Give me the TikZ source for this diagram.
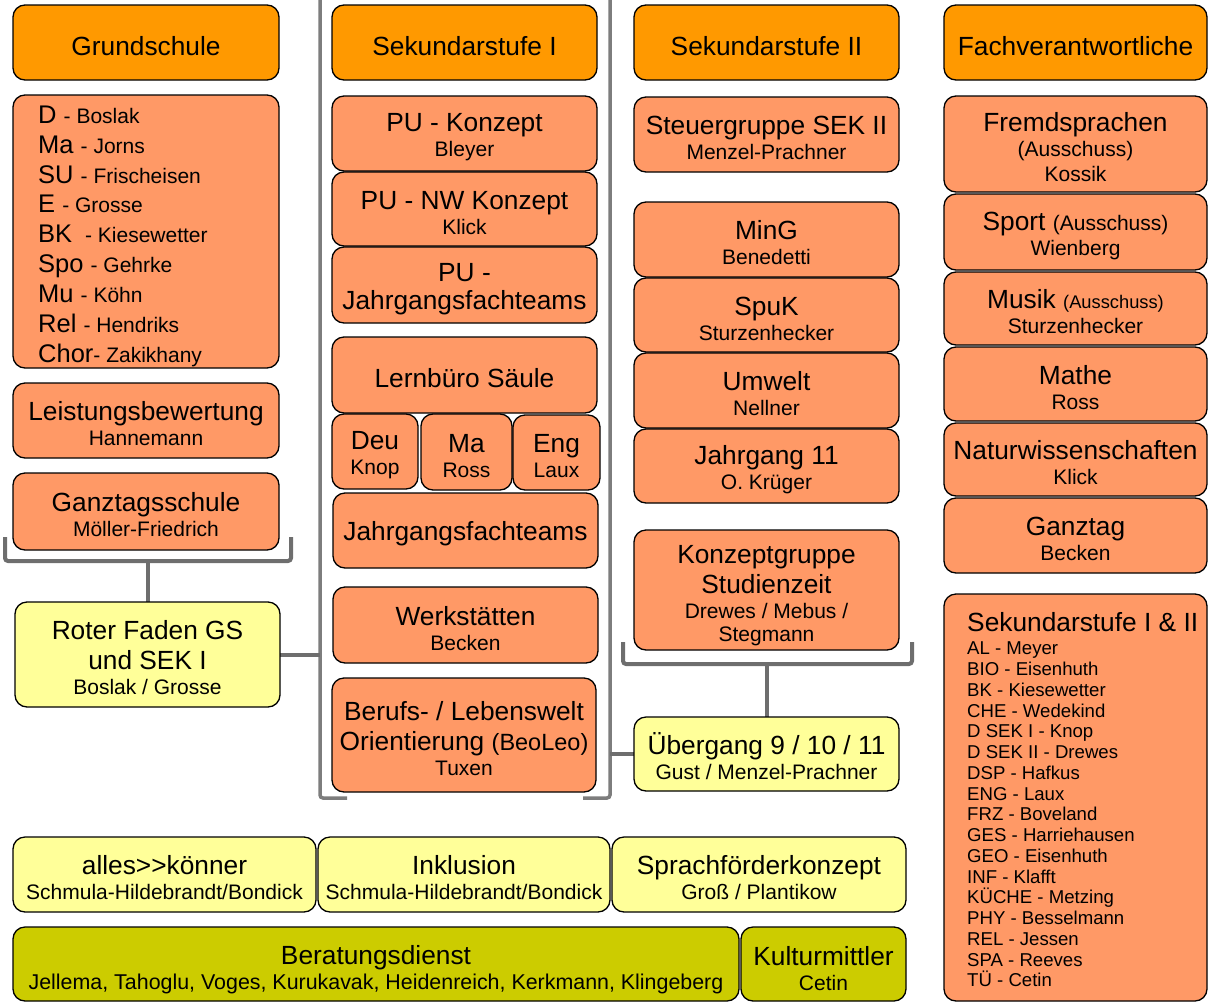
\documentclass[tikz,border=0pt]{standalone}
\usepackage{fontspec}
\setmainfont{Liberation Sans}
\usetikzlibrary{backgrounds}
\definecolor{hdrc}{HTML}{FF9900}
\definecolor{salc}{HTML}{FF9966}
\definecolor{yelc}{HTML}{FFFF99}
\definecolor{olic}{HTML}{CCCC00}
\definecolor{brkc}{HTML}{6E6E6E}
\newcommand\tsz{\fontsize{26.3}{30}\selectfont}
\newcommand\ssz{\fontsize{21}{25}\selectfont}
\newcommand\xsz{\fontsize{18.3}{22}\selectfont}
\newcommand\mybox[7]{\node[#1, minimum width={#4-#2}, minimum height={#5-#3}] (#6) at ({(#2+#4)/2},{(#3+#5)/2}) {\rule{0pt}{25.5pt}#7};}
\begin{document}
\begin{tikzpicture}[x=1pt,y=-1pt,
  box/.style={draw=black, line width=1.3pt, rounded corners=12pt, inner sep=0pt, outer sep=0pt, align=center, font=\tsz, text=black},
  head/.style={box, fill=hdrc},
  sbox/.style={box, fill=salc},
  ybox/.style={box, fill=yelc},
  obox/.style={box, fill=olic},
  listtxt/.style={inner sep=0pt, align=left, font=\fontsize{25.5}{29.9}\selectfont},
  listtwo/.style={inner sep=0pt, align=left, font=\fontsize{18.6}{20.75}\selectfont},
  brace/.style={draw=brkc, line width=4pt, rounded corners=3pt},
  sekbrace/.style={draw=brkc!90, line width=3.5pt, rounded corners=3pt},
  conn/.style={draw=brkc, line width=4pt}]
\useasboundingbox (0,0) rectangle (1208,1002);

% headers
\mybox{head}{13}{5}{279}{80}{gs}{Grundschule}
\mybox{head}{332}{5}{597}{80}{s1}{Sekundarstufe I}
\mybox{head}{634}{5}{899}{80}{s2}{Sekundarstufe II}
\mybox{head}{944}{5}{1207}{80}{fv}{Fachverantwortliche}

% column 1
\mybox{sbox}{13}{95}{279}{368}{gsl}{}
\node[listtxt, anchor=north west] (gsltxt) at (38,105.5) {D {\ssz - Boslak}\\Ma {\ssz - Jorns}\\SU {\ssz - Frischeisen}\\E {\ssz - Grosse}\\BK\ {\ssz\ - Kiesewetter}\\Spo {\ssz - Gehrke}\\Mu {\ssz - Köhn}\\Rel {\ssz - Hendriks}\\Chor{\ssz - Zakikhany}};
\mybox{sbox}{13}{383}{279}{458}{lb}{Leistungsbewertung\\[-5pt]{\ssz Hannemann}}
\mybox{sbox}{13}{473}{279}{550}{gt}{Ganztagsschule\\[-5pt]{\ssz Möller-Friedrich}}
\mybox{ybox}{15}{602}{280}{707}{rf}{Roter Faden GS\\und SEK I\\[-5pt]{\ssz Boslak / Grosse}}

% column 2
\mybox{sbox}{332}{96}{597}{171}{puk}{PU - Konzept\\[-5pt]{\ssz Bleyer}}
\mybox{sbox}{332}{172}{597}{246}{punw}{PU - NW Konzept\\[-5pt]{\ssz Klick}}
\mybox{sbox}{332}{247}{597}{323}{pujf}{PU -\\[-2pt]Jahrgangsfachteams}
\mybox{sbox}{332}{337}{597}{413}{lbs}{Lernbüro Säule}
\mybox{sbox}{332}{414}{418}{489}{deu}{Deu\\[-5pt]{\ssz Knop}}
\mybox{sbox}{421}{414}{512}{490}{ma}{Ma\\[-5pt]{\ssz Ross}}
\mybox{sbox}{513}{415}{600}{490}{eng}{Eng\\[-5pt]{\ssz Laux}}
\mybox{sbox}{333}{493}{598}{568}{jft}{Jahrgangsfachteams}
\mybox{sbox}{333}{587}{598}{663}{ws}{Werkstätten\\[-5pt]{\ssz Becken}}
\mybox{sbox}{332}{678}{596}{792}{beo}{Berufs- / Lebenswelt\\Orientierung {\fontsize{23.5}{27}\selectfont(BeoLeo)}\\[-5pt]{\ssz Tuxen}}

% column 3
\mybox{sbox}{634}{97}{899}{172}{stg}{Steuergruppe SEK II\\[-5pt]{\ssz Menzel-Prachner}}
\mybox{sbox}{634}{202}{899}{277}{ming}{MinG\\[-5pt]{\ssz Benedetti}}
\mybox{sbox}{634}{278}{899}{352}{spuk}{SpuK\\[-5pt]{\ssz Sturzenhecker}}
\mybox{sbox}{634}{353}{899}{428}{umw}{Umwelt\\[-5pt]{\ssz Nellner}}
\mybox{sbox}{634}{429}{899}{503}{jelf}{\rule{0pt}{27pt}Jahrgang 11\\[-5pt]{\ssz O. Krüger}}
\mybox{sbox}{634}{530}{899}{650}{kgs}{\rule{0pt}{28.5pt}Konzeptgruppe\\Studienzeit\\[-5pt]{\ssz Drewes / Mebus /}\\[-7pt]{\ssz Stegmann}}
\mybox{ybox}{634}{717}{899}{791}{ueb}{Übergang 9 / 10 / 11\\[-5pt]{\ssz Gust / Menzel-Prachner}}

% column 4
\mybox{sbox}{944}{96}{1207}{192}{fs}{Fremdsprachen\\[-5pt]{\ssz (Ausschuss)}\\[-5pt]{\ssz Kossik}}
\mybox{sbox}{944}{194}{1207}{270}{sp}{Sport {\ssz (Ausschuss)}\\[-5pt]{\ssz Wienberg}}
\mybox{sbox}{944}{272}{1207}{345}{mu}{Musik {\xsz(Ausschuss)}\\[-5pt]{\ssz Sturzenhecker}}
\mybox{sbox}{944}{347}{1207}{421}{mat}{Mathe\\[-5pt]{\ssz Ross}}
\mybox{sbox}{944}{423}{1207}{496}{nw}{Naturwissenschaften\\[-5pt]{\ssz Klick}}
\mybox{sbox}{944}{498}{1207}{573}{gtg}{Ganztag\\[-5pt]{\ssz Becken}}
\mybox{sbox}{944}{594}{1207}{1001}{s12}{}
\node[listtwo, anchor=north west] (s12txt) at (967,612.5) {{\tsz Sekundarstufe I \& II}\\[2.25pt]AL - Meyer\\BIO - Eisenhuth\\BK - Kiesewetter\\CHE - Wedekind\\D SEK I - Knop\\D SEK II - Drewes\\DSP - Hafkus\\ENG - Laux\\FRZ - Boveland\\GES - Harriehausen\\GEO - Eisenhuth\\INF - Klafft\\KÜCHE - Metzing\\PHY - Besselmann\\REL - Jessen\\SPA - Reeves\\TÜ - Cetin};

% bottom rows
\mybox{ybox}{13}{837}{316}{912}{ak}{alles>\kern0pt>könner\\[-5pt]{\ssz Schmula-Hildebrandt/Bondick}}
\mybox{ybox}{318}{837}{610}{912}{ink}{Inklusion\\[-5pt]{\ssz Schmula-Hildebrandt/Bondick}}
\mybox{ybox}{612}{837}{906}{912}{spf}{Sprachförderkonzept\\[-5pt]{\ssz Groß / Plantikow}}
\mybox{obox}{13}{927}{739}{1001}{bd}{\rule{0pt}{31pt}Beratungsdienst\\[-5pt]{\fontsize{21.4}{25}\selectfont Jellema, Tahoglu, Voges, Kurukavak, Heidenreich, Kerkmann, Klingeberg}}
\mybox{obox}{741}{927}{906}{1001}{km}{\rule{0pt}{29pt}Kulturmittler\\[-5pt]{\ssz Cetin}}

% brackets and connectors
\coordinate (gsb) at (147.5,561);
\coordinate (s2b) at (766.5,664);
\coordinate (s1l) at (320,654.5);
\coordinate (s1r) at (610,754);
\begin{scope}[on background layer]
\draw[brace] (5,537) -- (5,561) -- (291,561) -- (291,537);
\draw[sekbrace] (347,798) -- (320,798) -- (320,-20);
\draw[sekbrace] (583,798) -- (610,798) -- (610,-20);
\draw[brace] (623,642) -- (623,664) -- (912,664) -- (912,642);
\draw[conn] (gsb) -- (rf.north);
\draw[conn] (rf.east) -- (s1l);
\draw[conn] (s2b) -- (ueb.north);
\draw[conn] (ueb.west) -- (s1r);
\end{scope}
\end{tikzpicture}
\end{document}
